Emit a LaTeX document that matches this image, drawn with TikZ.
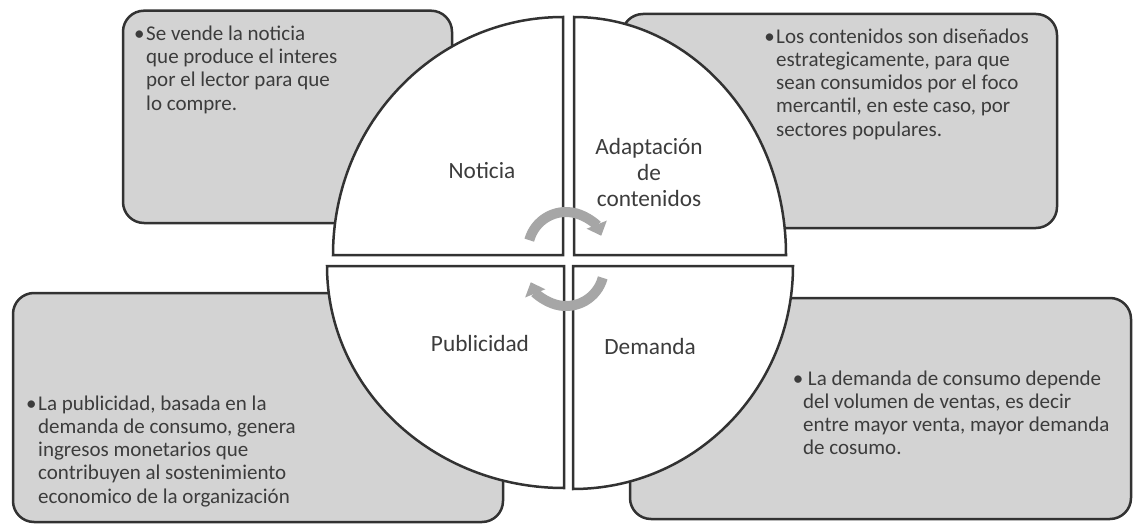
\documentclass[tikz,border=0pt]{standalone}
\usepackage{fontspec}
\setmainfont{Carlito}
\usetikzlibrary{arrows.meta}
\definecolor{boxgray}{RGB}{211,211,211}
\definecolor{edgegray}{RGB}{50,50,50}
\definecolor{txtgray}{RGB}{60,60,60}
\definecolor{arrowgray}{RGB}{166,166,166}
\tikzset{
  infobox/.style={fill=boxgray,draw=edgegray,line width=2.5pt,rounded corners=21pt},
  quadrant/.style={fill=white,draw=edgegray,line width=2.5pt},
  bodytext/.style={inner sep=0pt,anchor=north west,align=left,text=txtgray,
    font=\fontsize{21}{23.3}\selectfont},
  quadlabel/.style={inner sep=0pt,align=center,text=txtgray,
    font=\fontsize{23.3}{26}\selectfont},
  cyclearrow/.style={arrowgray,line width=10pt,-{Triangle[width=21pt,length=12pt]}}
}
\newcommand*{\bul}{\llap{•\kern1.5pt}}

\begin{document}
\begin{tikzpicture}[x=1pt,y=-1pt]
\useasboundingbox (0,0) rectangle (1138,527);

% text boxes behind the circle
\draw[infobox] (123,10.7) rectangle (452,223);
\draw[infobox] (622,14) rectangle (1057,228);
\draw[infobox] (13,293) rectangle (503,522);
\draw[infobox] (630,298) rectangle (1131,519);

% the four quarters
\coordinate (tl) at (563,255);
\coordinate (tr) at (574,255);
\coordinate (bl) at (564,266);
\coordinate (br) at (573,266);
\draw[quadrant] (tl) -- ++(-230pt,0) arc[start angle=180,end angle=90,x radius=230pt,y radius=238pt] -- cycle;
\draw[quadrant] (tr) -- ++(0,238pt) arc[start angle=90,end angle=0,x radius=212pt,y radius=238pt] -- cycle;
\draw[quadrant] (bl) -- ++(0,-222pt) arc[start angle=270,end angle=180,x radius=237pt,y radius=222pt] -- cycle;
\draw[quadrant] (br) -- ++(220pt,0) arc[start angle=0,end angle=-90,x radius=220pt,y radius=223pt] -- cycle;

\node[quadlabel] (noticia) at (482,171) {Noticia};
\node[quadlabel] (adaptacion) at (649,172) {Adaptación\\de\\contenidos};
\node[quadlabel] (publicidad) at (480,343) {Publicidad};
\node[quadlabel] (demanda) at (650,346) {Demanda};

% cycle arrows
\coordinate (up) at (566,250);
\coordinate (dn) at (566,268);
\draw[cyclearrow] (up) ++(165:38pt) arc[start angle=165,end angle=22,radius=38pt];
\draw[cyclearrow] (dn) ++(-15:38pt) arc[start angle=-15,end angle=-158,radius=38pt];

\node[bodytext] (txtnoticia) at (146,25.5)
  {\bul Se vende la noticia\\que produce el interes\\por el lector para que\\lo compre.};
\node[bodytext] (txtadaptacion) at (776,28.3)
  {\bul Los contenidos son diseñados\\estrategicamente, para que\\sean consumidos por el foco\\mercantil, en este caso, por\\sectores populares.};
\node[bodytext] (txtpublicidad) at (38,395.3)
  {\bul La publicidad, basada en la\\demanda de consumo, genera\\ingresos monetarios que\\contribuyen al sostenimiento\\economico de la organización};
\node[bodytext] (txtdemanda) at (803,370.3)
  {\llap{•}\ La demanda de consumo depende\\del volumen de ventas, es decir\\entre mayor venta, mayor demanda\\de cosumo.};
\end{tikzpicture}
\end{document}
